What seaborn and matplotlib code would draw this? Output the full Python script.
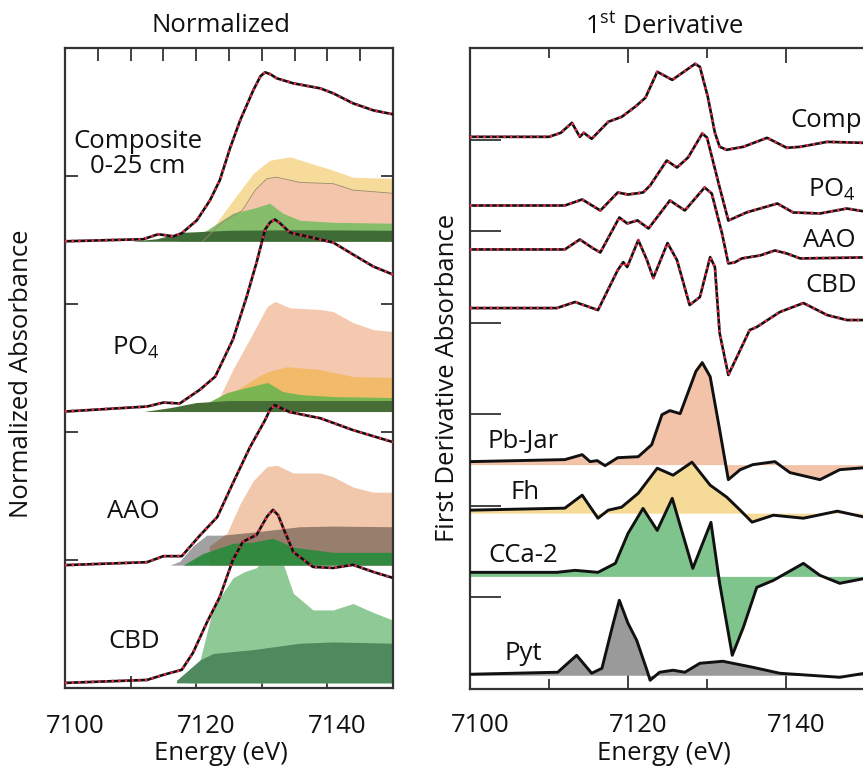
import numpy as np
import matplotlib
matplotlib.use('Agg')
import matplotlib.pyplot as plt
import matplotlib.transforms as mtransforms
import seaborn as sns

# ---------------- normalized XANES (height above each trace's baseline) ----------------
e_comp = [7100, 7111.9, 7114.2, 7116.5, 7117.8, 7120.1, 7122.1, 7123.6, 7125.2, 7126.7,
          7128.7, 7129.8, 7130.5, 7131.3, 7132.3, 7134.8, 7138.9, 7140.9, 7143.9, 7147, 7150]
mu_comp = [0, 0.016, 0.055, 0.039, 0.063, 0.164, 0.320, 0.477, 0.734, 0.945,
           1.180, 1.290, 1.320, 1.305, 1.273, 1.234, 1.195, 1.156, 1.078, 1.023, 0.992]

e_po4 = [7100, 7112.5, 7115, 7117.5, 7120.6, 7122.9, 7125.6, 7127.7, 7129.2, 7130.5,
         7131.3, 7132, 7132.8, 7134.3, 7138.9, 7140.9, 7143.9, 7147, 7150]
mu_po4 = [0, 0.039, 0.070, 0.063, 0.172, 0.273, 0.563, 0.898, 1.164, 1.422,
          1.48, 1.50, 1.47, 1.398, 1.344, 1.320, 1.227, 1.133, 1.070]

e_aao = [7100, 7112.5, 7115, 7117.8, 7120.6, 7123.2, 7125.6, 7128.2, 7130.5, 7131.3,
         7132, 7132.8, 7134.3, 7138.9, 7143.9, 7150]
mu_aao = [0, 0.023, 0.070, 0.070, 0.234, 0.375, 0.641, 0.922, 1.133, 1.22,
          1.25, 1.23, 1.195, 1.148, 1.055, 0.961]

e_cbd = [7100, 7112.5, 7115, 7117.8, 7119.5, 7121.6, 7123.6, 7125.6, 7127.1, 7129.2,
         7130.8, 7131.7, 7132.5, 7133.2, 7134.8, 7137.8, 7140.9, 7143.9, 7147, 7150]
mu_cbd = [0, 0.023, 0.063, 0.102, 0.234, 0.469, 0.672, 0.961, 1.102, 1.156,
          1.30, 1.352, 1.31, 1.219, 1.023, 0.906, 0.898, 0.922, 0.867, 0.820]

norm_names = ['Composite', 'PO4', 'AAO', 'CBD']
norm_offsets = [3.49, 2.16, 0.96, 0.04]

# ---------------- LCF component areas (top edge above baseline) ----------------
# Composite
cf_comp_yel_e = [7119, 7122.6, 7125.6, 7128.7, 7131.2, 7134.3, 7138.4, 7140.9, 7143.9, 7150]
cf_comp_yel = [0, 0.11, 0.32, 0.53, 0.633, 0.66, 0.594, 0.555, 0.50, 0.492]
cf_comp_sal_e = [7121, 7124, 7127, 7129, 7130.8, 7132.3, 7135.8, 7140.9, 7143.9, 7150]
cf_comp_sal = [0, 0.15, 0.24, 0.40, 0.49, 0.50, 0.46, 0.45, 0.40, 0.375]
cf_comp_grn_e = [7117, 7119, 7121.6, 7125.6, 7128.7, 7131.2, 7133.2, 7135.8, 7140.9, 7150]
cf_comp_grn = [0, 0.03, 0.086, 0.219, 0.258, 0.297, 0.219, 0.164, 0.148, 0.141]
cf_comp_dk_e = [7110, 7114, 7118, 7125, 7135, 7150]
cf_comp_dk = [0, 0.02, 0.07, 0.086, 0.09, 0.086]
# PO4
cf_po4_sal_e = [7120, 7123.6, 7125.6, 7128.7, 7130.8, 7132, 7134.3, 7138.9, 7140.9, 7143.9, 7147, 7150]
cf_po4_sal = [0, 0.117, 0.328, 0.617, 0.82, 0.86, 0.81, 0.797, 0.78, 0.695, 0.64, 0.625]
cf_po4_org_e = [7122, 7125.6, 7128.7, 7130.8, 7133.8, 7138.9, 7143.9, 7150]
cf_po4_org = [0.03, 0.15, 0.25, 0.31, 0.35, 0.328, 0.273, 0.266]
cf_po4_grn_e = [7118, 7120.6, 7124.7, 7127.7, 7130.9, 7133.2, 7135.8, 7140.9, 7150]
cf_po4_grn = [0, 0.039, 0.148, 0.188, 0.227, 0.156, 0.133, 0.117, 0.109]
cf_po4_dk_e = [7112, 7116, 7120, 7125, 7150]
cf_po4_dk = [0, 0.03, 0.07, 0.086, 0.086]
# AAO
cf_aao_sal_e = [7122, 7124.7, 7126.7, 7128.7, 7130.8, 7132.3, 7134.8, 7138.9, 7140.9, 7143.9, 7147, 7150]
cf_aao_sal = [0.15, 0.25, 0.48, 0.66, 0.77, 0.78, 0.72, 0.72, 0.69, 0.61, 0.57, 0.57]
cf_aao_gry_e = [7116, 7117.5, 7119.5, 7121.6, 7124, 7128.7, 7135.8, 7140.9, 7150]
cf_aao_gry = [0, 0.03, 0.15, 0.234, 0.234, 0.258, 0.30, 0.305, 0.30]
cf_aao_grn_e = [7118, 7121, 7125.6, 7128.7, 7131.7, 7134.8, 7140.9, 7150]
cf_aao_grn = [0, 0.09, 0.17, 0.18, 0.21, 0.14, 0.10, 0.10]
# CBD
cf_cbd_lt_e = [7118.6, 7120.6, 7122.6, 7125.6, 7127.4, 7129.2, 7130.8, 7131.7, 7133.2,
               7134.8, 7137.8, 7140.9, 7143.9, 7147, 7150]
cf_cbd_lt = [0, 0.18, 0.59, 0.82, 0.87, 0.90, 1.02, 1.05, 0.94,
             0.70, 0.57, 0.57, 0.62, 0.55, 0.49]
cf_cbd_dk_e = [7117, 7120.6, 7122.6, 7128.7, 7135.8, 7140.9, 7150]
cf_cbd_dk = [0.02, 0.18, 0.23, 0.26, 0.31, 0.32, 0.31]

# ---------------- first derivative spectra (relative to own baseline) ----------------
d_comp_e = [7100, 7110, 7111.5, 7112.9, 7113.9, 7114.4, 7115.4, 7117.5, 7119.2, 7120.9,
            7122.2, 7123.7, 7125.6, 7128.5, 7129.1, 7130.1, 7131, 7131.6, 7132.5, 7134.6,
            7137.6, 7140.1, 7141.8, 7145.2, 7150]
d_comp = [0, 0, 0.044, 0.153, 0, 0.044, -0.022, 0.164, 0.218, 0.328,
          0.426, 0.710, 0.622, 0.797, 0.764, 0.437, 0.044, -0.109, -0.142, -0.109,
          -0.011, -0.120, -0.109, -0.055, -0.066]

d_po4_e = [7100, 7112, 7114.2, 7116.5, 7118.7, 7120, 7121.9, 7122.8, 7124.9, 7126.2,
           7127.6, 7129.4, 7130, 7131.6, 7132.7, 7135, 7138.9, 7140.9, 7144.3, 7147.7, 7150]
d_po4 = [0, 0, 0.066, -0.055, 0.142, 0.120, 0.142, 0.218, 0.491, 0.415,
         0.524, 0.786, 0.742, 0.197, -0.164, -0.076, 0.022, -0.076, -0.087, -0.033, -0.066]

d_aao_e = [7100, 7112, 7113.9, 7115.6, 7116.5, 7118.9, 7119.9, 7121.2, 7122.6, 7125.3,
           7127.2, 7129.7, 7130.6, 7131.9, 7132.7, 7133.5, 7134.4, 7136.7, 7138.6, 7140.1,
           7141.8, 7150]
d_aao = [0, 0, 0.109, 0.011, -0.033, 0.349, 0.284, 0.317, 0.229, 0.535,
         0.426, 0.677, 0.611, 0.175, -0.153, -0.142, -0.098, -0.066, -0.011, -0.044,
         -0.098, -0.087]

d_cbd_e = [7100, 7111, 7113.3, 7116.2, 7118.7, 7119.4, 7119.9, 7121.3, 7122.4, 7123.2,
           7125, 7126.2, 7127.8, 7129.1, 7130.4, 7131, 7131.6, 7132.7, 7134.2, 7135.4,
           7136.3, 7139.2, 7142.2, 7145.2, 7147.7, 7150]
d_cbd = [0, 0, 0.066, -0.022, 0.415, 0.502, 0.448, 0.742, 0.524, 0.328,
         0.710, 0.524, 0.033, 0.120, 0.557, 0.448, -0.273, -0.731, -0.459, -0.240,
         -0.207, -0.044, 0.055, -0.076, -0.131, -0.131]

d_pbjar_e = [7100, 7112, 7114.2, 7115.2, 7116.1, 7117.1, 7118.7, 7121.3, 7123, 7124.3,
             7125.3, 7126.6, 7128.6, 7129.4, 7130.4, 7131.6, 7132.7, 7134.2, 7135.8, 7138.6,
             7140.5, 7144.3, 7146.8, 7150]
d_pbjar = [0.033, 0.055, 0.109, 0.033, 0.044, -0.011, 0.076, 0.087, 0.218, 0.546,
           0.590, 0.557, 1.02, 1.114, 0.961, 0.382, -0.164, -0.055, 0, 0.033,
           -0.087, -0.164, -0.055, -0.033]

d_fh_e = [7100, 7112, 7114.2, 7116.2, 7117.5, 7119.2, 7121.3, 7123.7, 7125.7, 7128.1,
          7130.4, 7132.5, 7134.2, 7135.7, 7138.4, 7142.2, 7146.5, 7150]
d_fh = [0.033, 0.055, 0.197, -0.055, 0.033, 0.066, 0.218, 0.491, 0.415, 0.557,
        0.306, 0.175, 0.033, -0.098, -0.022, -0.055, 0.022, -0.044]

d_cca_e = [7100, 7111, 7113.3, 7116.2, 7118.4, 7120, 7121.9, 7123.7, 7125.6, 7128.2,
           7130.5, 7131.6, 7133.2, 7134.6, 7136.3, 7138.4, 7142.2, 7144.3, 7146.8, 7150]
d_cca = [0.044, 0.044, 0.066, 0.044, 0.142, 0.469, 0.742, 0.502, 0.852, 0.087,
         0.590, -0.076, -0.862, -0.557, -0.120, -0.044, 0.142, 0.011, -0.076, -0.022]

d_pyt_e = [7100, 7111.1, 7113.5, 7115.4, 7116.7, 7118, 7118.9, 7120, 7121.1, 7122.4,
           7122.8, 7124, 7125.7, 7127.2, 7129.1, 7132, 7135.8, 7139.2, 7143, 7146.8, 7150]
d_pyt = [0.011, 0.033, 0.218, 0.022, 0.076, 0.524, 0.819, 0.568, 0.382, 0.055,
         -0.055, 0.033, 0.055, 0.033, 0.131, 0.153, 0.087, 0.022, 0, -0.022, 0.022]

deriv_sample_offsets = [6.03, 5.28, 4.80, 4.16]
deriv_ref_offsets = [2.45, 1.92, 1.23, 0.15]

# ---------------- style ----------------
sns.set_theme(style='white')
plt.rcParams['font.family'] = ['Open Sans', 'DejaVu Sans']
plt.rcParams['mathtext.fontset'] = 'custom'
plt.rcParams['mathtext.rm'] = 'Open Sans'
plt.rcParams['mathtext.it'] = 'Open Sans:italic'
plt.rcParams['lines.solid_joinstyle'] = 'round'
plt.rcParams['lines.solid_capstyle'] = 'round'
plt.rcParams['text.color'] = '#111111'
plt.rcParams['xtick.color'] = '#111111'

FS = 18.5
SPINE = '#333333'
FIT = '#e3304b'

fig = plt.figure(figsize=(8.63, 7.70), dpi=100)
ax1 = fig.add_axes([65 / 863, 1 - 688 / 770, 328 / 863, 640 / 770])
ax2 = fig.add_axes([470 / 863, 1 - 689 / 770, 395 / 863, 641 / 770])


def area(ax, e, top, base, color, alpha=1.0):
    ax.fill_between(e, base, base + np.asarray(top), color=color, lw=0, alpha=alpha, zorder=1)


def trace(ax, e, y, base, fit=True, lw=1.9):
    yy = base + np.asarray(y)
    sns.lineplot(x=e, y=yy, ax=ax, color='#111111', lw=lw, sort=False, estimator=None, zorder=3)
    if fit:
        ax.plot(e, yy, color=FIT, lw=2.0, ls=(0, (0.8, 1.6)), zorder=4)


# ---------------- left panel: normalized ----------------
b_comp, b_po4, b_aao, b_cbd = norm_offsets

area(ax1, cf_cbd_lt_e, cf_cbd_lt, b_cbd, '#8fca96')
area(ax1, cf_cbd_dk_e, cf_cbd_dk, b_cbd, '#4f8a5e')

area(ax1, cf_aao_sal_e, cf_aao_sal, b_aao, '#f2c8ad')
area(ax1, cf_aao_gry_e, cf_aao_gry, b_aao, 'black', alpha=0.37)
area(ax1, cf_aao_grn_e, cf_aao_grn, b_aao, '#2a8a3c', alpha=0.92)

area(ax1, cf_po4_sal_e, cf_po4_sal, b_po4, '#f4c9b0')
area(ax1, cf_po4_org_e, cf_po4_org, b_po4, '#f1bb6a')
area(ax1, cf_po4_grn_e, cf_po4_grn, b_po4, '#7ab552')
area(ax1, cf_po4_dk_e, cf_po4_dk, b_po4, '#476d37')

area(ax1, cf_comp_yel_e, cf_comp_yel, b_comp, '#f6db9a')
area(ax1, cf_comp_sal_e, cf_comp_sal, b_comp, '#f3c5aa')
area(ax1, cf_comp_grn_e, cf_comp_grn, b_comp, '#86bd6b')
area(ax1, cf_comp_dk_e, cf_comp_dk, b_comp, '#3f6b36')
ax1.plot(cf_comp_sal_e, b_comp + np.asarray(cf_comp_sal), color='#9a8a70', lw=0.6, zorder=2)

trace(ax1, e_cbd, mu_cbd, b_cbd)
trace(ax1, e_aao, mu_aao, b_aao)
trace(ax1, e_po4, mu_po4, b_po4)
trace(ax1, e_comp, mu_comp, b_comp)

ax1.set_xlim(7100, 7150)
ax1.set_ylim(0, 5)
ax1.set_xticks([7100, 7120, 7140])
ax1.set_xticks([7110, 7130], minor=True)
ax1.set_yticks([1, 2, 3, 4])
ax1.set_yticklabels([])
ax1.tick_params(axis='x', which='both', direction='in', length=9, width=1.3, color=SPINE,
                bottom=True, top=False, labelsize=FS, pad=19, labelcolor='#111111')
ax1.tick_params(axis='y', direction='in', length=9, width=1.3, color=SPINE, left=True, right=True)
top1 = ax1.secondary_xaxis('top')
top1.set_xticks(np.arange(7105, 7150, 5))
top1.tick_params(direction='in', length=9, width=1.3, color=SPINE, labeltop=False)
top1.spines['top'].set_visible(False)

ax1.text(7111.1, 4.17, 'Composite\n0-25 cm', fontsize=FS, ha='center', va='center',
         multialignment='center', linespacing=1.0)
ax1.text(7107.2, 2.66, r'PO$_4$', fontsize=FS, ha='left', va='center')
ax1.text(7106.4, 1.375, 'AAO', fontsize=FS, ha='left', va='center')
ax1.text(7106.6, 0.36, 'CBD', fontsize=FS, ha='left', va='center')

# ---------------- right panel: first derivative ----------------
r_pb, r_fh, r_cca, r_pyt = deriv_ref_offsets
area(ax2, d_pbjar_e, d_pbjar, r_pb, '#f2c3a8')
area(ax2, d_fh_e, d_fh, r_fh, '#f6da98')
area(ax2, d_cca_e, d_cca, r_cca, '#7fc48c')
area(ax2, d_pyt_e, d_pyt, r_pyt, '#9a9a9a')
trace(ax2, d_pbjar_e, d_pbjar, r_pb, fit=False, lw=2.1)
trace(ax2, d_fh_e, d_fh, r_fh, fit=False, lw=2.1)
trace(ax2, d_cca_e, d_cca, r_cca, fit=False, lw=2.1)
trace(ax2, d_pyt_e, d_pyt, r_pyt, fit=False, lw=2.1)

s_comp, s_po4, s_aao, s_cbd = deriv_sample_offsets
trace(ax2, d_comp_e, d_comp, s_comp)
trace(ax2, d_po4_e, d_po4, s_po4)
trace(ax2, d_aao_e, d_aao, s_aao)
trace(ax2, d_cbd_e, d_cbd, s_cbd)

ax2.set_xlim(7100, 7150)
ax2.set_ylim(0, 7)
ax2.set_xticks([7100, 7120, 7140])
ax2.set_xticks([7110, 7130], minor=True)
ax2.set_yticks([1, 2, 3, 4, 5, 6])
ax2.set_yticklabels([])
ax2.tick_params(axis='x', which='major', direction='in', length=11, width=1.3, color=SPINE,
                bottom=True, top=True, labelsize=FS, pad=17, labelcolor='#111111')
ax2.tick_params(axis='x', which='minor', direction='in', length=7, width=1.3, color=SPINE,
                bottom=True, top=True)
ax2.tick_params(axis='y', direction='in', length=22, width=1.3, color=SPINE, left=True, right=False)

ax2.text(7140.5, 6.21, 'Comp', fontsize=FS, ha='left', va='center')
ax2.text(7142.8, 5.45, r'PO$_4$', fontsize=FS, ha='left', va='center')
ax2.text(7142.2, 4.90, 'AAO', fontsize=FS, ha='left', va='center')
ax2.text(7142.4, 4.41, 'CBD', fontsize=FS, ha='left', va='center')
ax2.text(7102.2, 2.70, 'Pb-Jar', fontsize=FS, ha='left', va='center')
ax2.text(7105.1, 2.15, 'Fh', fontsize=FS, ha='left', va='center')
ax2.text(7102.3, 1.46, 'CCa-2', fontsize=FS, ha='left', va='center')
ax2.text(7104.4, 0.39, 'Pyt', fontsize=FS, ha='left', va='center')

for ax in (ax1, ax2):
    ax.set_xlabel('')
    ax.set_ylabel('')
    for sp in ax.spines.values():
        sp.set_color(SPINE)
        sp.set_linewidth(1.6)
    shift = mtransforms.ScaledTranslation(0.10, 0, fig.dpi_scale_trans)
    for lab in ax.get_xticklabels():
        lab.set_transform(lab.get_transform() + shift)
ax2.spines['right'].set_visible(False)

fig.text(221 / 863, 1 - 26 / 770, 'Normalized', fontsize=FS, ha='center', va='center')
fig.text(664 / 863, 1 - 26 / 770, r'1$^{\mathrm{st}}$ Derivative', fontsize=FS, ha='center', va='center')
fig.text(221 / 863, 1 - 753 / 770, 'Energy (eV)', fontsize=FS, ha='center', va='center')
fig.text(664 / 863, 1 - 753 / 770, 'Energy (eV)', fontsize=FS, ha='center', va='center')
fig.text(22 / 863, 1 - 374 / 770, 'Normalized Absorbance', fontsize=FS, rotation=90,
         ha='center', va='center')
fig.text(447 / 863, 1 - 378 / 770, 'First Derivative Absorbance', fontsize=FS, rotation=90,
         ha='center', va='center')

fig.savefig('out.png', dpi=100)
